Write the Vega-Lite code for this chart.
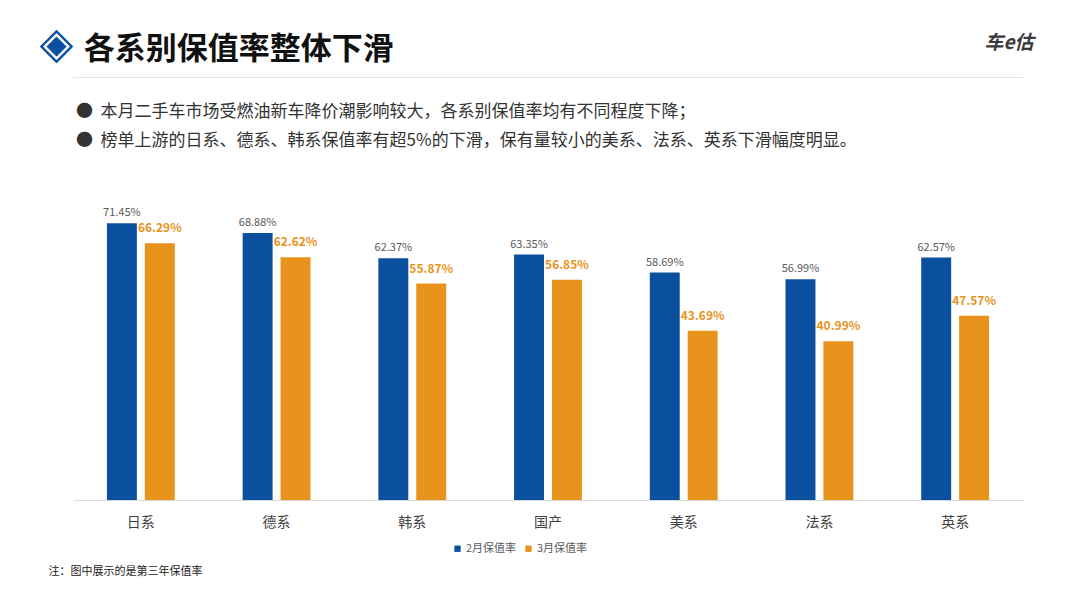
{
  "$schema": "https://vega.github.io/schema/vega-lite/v6.json",
  "autosize": "none",
  "width": 950,
  "height": 310,
  "padding": {"left": 73, "top": 190, "right": 57, "bottom": 108},
  "background": "#ffffff",
  "config": {
    "font": "Noto Sans CJK SC",
    "view": {"stroke": null}
  },
  "title": {
    "text": "\u200b\u2005各系别保值率整体下滑",
    "subtitle": [
      "●\u00a0\u00a0本月二手车市场受燃油新车降价潮影响较大，各系别保值率均有不同程度下降；",
      "●\u00a0\u00a0榜单上游的日系、德系、韩系保值率有超5%的下滑，保有量较小的美系、法系、英系下滑幅度明显。"
    ],
    "anchor": "start",
    "frame": "group",
    "dx": 3,
    "offset": -128,
    "fontSize": 31,
    "fontWeight": "bold",
    "color": "#111111",
    "subtitleFontSize": 17,
    "subtitleColor": "#333333",
    "subtitleLineHeight": 29,
    "subtitlePadding": 38
  },
  "data": {
    "values": [
      {"cat": "日系", "series": "2月保值率", "value": 0.7145},
      {"cat": "日系", "series": "3月保值率", "value": 0.6629},
      {"cat": "德系", "series": "2月保值率", "value": 0.6888},
      {"cat": "德系", "series": "3月保值率", "value": 0.6262},
      {"cat": "韩系", "series": "2月保值率", "value": 0.6237},
      {"cat": "韩系", "series": "3月保值率", "value": 0.5587},
      {"cat": "国产", "series": "2月保值率", "value": 0.6335},
      {"cat": "国产", "series": "3月保值率", "value": 0.5685},
      {"cat": "美系", "series": "2月保值率", "value": 0.5869},
      {"cat": "美系", "series": "3月保值率", "value": 0.4369},
      {"cat": "法系", "series": "2月保值率", "value": 0.5699},
      {"cat": "法系", "series": "3月保值率", "value": 0.4099},
      {"cat": "英系", "series": "2月保值率", "value": 0.6257},
      {"cat": "英系", "series": "3月保值率", "value": 0.4757}
    ]
  },
  "encoding": {
    "x": {
      "field": "cat",
      "type": "nominal",
      "sort": ["日系", "德系", "韩系", "国产", "美系", "法系", "英系"],
      "scale": {"paddingInner": 0.5, "paddingOuter": 0.25}
    },
    "xOffset": {
      "field": "series",
      "type": "nominal",
      "sort": ["2月保值率", "3月保值率"],
      "scale": {"paddingInner": 0.21, "paddingOuter": 0}
    },
    "y": {
      "field": "value",
      "type": "quantitative",
      "scale": {"domain": [0, 0.8], "nice": false, "zero": true}
    }
  },
  "resolve": {
    "axis": {"x": "independent", "y": "independent"},
    "scale": {"color": "independent"}
  },
  "layer": [
    {
      "mark": {"type": "bar"},
      "encoding": {
        "x": {
          "field": "cat",
          "type": "nominal",
          "sort": ["日系", "德系", "韩系", "国产", "美系", "法系", "英系"],
          "scale": {"paddingInner": 0.5, "paddingOuter": 0.25},
          "axis": {
            "orient": "bottom",
            "labelAngle": 0,
            "labelFontSize": 14,
            "labelColor": "#404040",
            "labelPadding": 15,
            "ticks": false,
            "domainColor": "#D9D9D9",
            "domainWidth": 1,
            "grid": false,
            "title": "注：图中展示的是第三年保值率",
            "titleX": -25,
            "titleY": 71,
            "titleAlign": "left",
            "titleAnchor": "start",
            "titleBaseline": "middle",
            "titleFontSize": 11,
            "titleFontWeight": "normal",
            "titleColor": "#222222"
          }
        },
        "y": {
          "field": "value",
          "type": "quantitative",
          "scale": {"domain": [0, 0.8], "nice": false, "zero": true},
          "axis": {
            "orient": "left",
            "domain": false,
            "ticks": false,
            "labels": false,
            "grid": false,
            "title": "◈",
            "titleAngle": 0,
            "titleX": -17,
            "titleY": -146,
            "titleAlign": "center",
            "titleBaseline": "middle",
            "titleFont": "DejaVu Sans",
            "titleFontSize": 44,
            "titleFontWeight": "normal",
            "titleColor": "#0B4F9F"
          }
        },
        "color": {
          "field": "series",
          "type": "nominal",
          "sort": ["2月保值率", "3月保值率"],
          "scale": {"domain": ["2月保值率", "3月保值率"], "range": ["#0B4F9F", "#E8931C"]},
          "legend": {
            "orient": "none",
            "legendX": 379,
            "legendY": 353,
            "direction": "horizontal",
            "title": null,
            "symbolType": "square",
            "symbolSize": 40,
            "symbolStrokeWidth": 0,
            "labelFontSize": 11,
            "labelColor": "#595959",
            "labelOffset": 3,
            "columnPadding": 6
          }
        }
      }
    },
    {
      "transform": [{"filter": "datum.series === '2月保值率'"}],
      "mark": {"type": "text", "baseline": "bottom", "dy": -5, "fontSize": 11, "color": "#595959"},
      "encoding": {
        "x": {
          "field": "cat",
          "type": "nominal",
          "sort": ["日系", "德系", "韩系", "国产", "美系", "法系", "英系"],
          "scale": {"paddingInner": 0.5, "paddingOuter": 0.25},
          "axis": {
            "orient": "top",
            "offset": 113,
            "domainColor": "#E3E3E3",
            "domainWidth": 1,
            "labels": false,
            "ticks": false,
            "grid": false,
            "title": null
          }
        },
        "y": {
          "field": "value",
          "type": "quantitative",
          "scale": {"domain": [0, 0.8], "nice": false, "zero": true},
          "axis": {
            "orient": "right",
            "domain": false,
            "ticks": false,
            "labels": false,
            "grid": false,
            "title": "车e估",
            "titleAngle": 0,
            "titleX": 10,
            "titleY": -148,
            "titleAlign": "right",
            "titleBaseline": "middle",
            "titleFontSize": 19,
            "titleFontWeight": "bold",
            "titleFontStyle": "italic",
            "titleColor": "#3A3A3A"
          }
        },
        "text": {"field": "value", "type": "quantitative", "format": ".2%"}
      }
    },
    {
      "transform": [{"filter": "datum.series === '3月保值率'"}],
      "mark": {"type": "text", "baseline": "bottom", "dy": -8, "fontSize": 12, "fontWeight": "bold", "color": "#E8931C"},
      "encoding": {
        "x": {
          "field": "cat",
          "type": "nominal",
          "sort": ["日系", "德系", "韩系", "国产", "美系", "法系", "英系"],
          "scale": {"paddingInner": 0.5, "paddingOuter": 0.25},
          "axis": null
        },
        "y": {
          "field": "value",
          "type": "quantitative",
          "scale": {"domain": [0, 0.8], "nice": false, "zero": true},
          "axis": null
        },
        "text": {"field": "value", "type": "quantitative", "format": ".2%"}
      }
    }
  ]
}
